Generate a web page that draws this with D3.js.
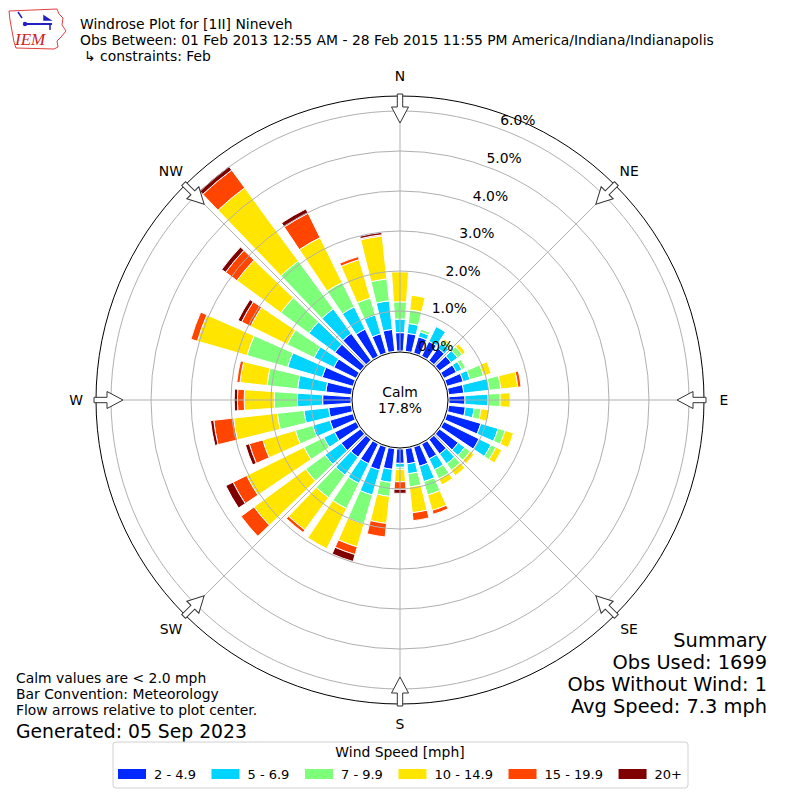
<!DOCTYPE html>
<html>
<head>
<meta charset="utf-8">
<script src="https://cdn.jsdelivr.net/npm/d3@7"></script>
<style>
  body { margin: 0; background: #fff; }
  svg { font-family: "DejaVu Sans", sans-serif; }
</style>
</head>
<body>
<div id="chart"></div>
<script>
// direction bins (degrees, meteorological)
var directions = [0, 10, 20, 30, 40, 50, 60, 70, 80, 90, 100, 110, 120, 130, 140, 150, 160, 170,
                  180, 190, 200, 210, 220, 230, 240, 250, 260, 270, 280, 290, 300, 310, 320, 330, 340, 350];

// percent of obs per speed bin, one value per direction
var spd2to5   = [.46,.45,.42,.41,.38,.36,.35,.42,.38,.40,.42,.88,.98,.58,.45,.42,.50,.38,
                 .36,.52,.60,.55,.55,.60,.60,.60,.57,.71,.64,.80,.62,.79,.84,.75,.50,.55];
var spd5to7   = [.34,.25,.13,.41,.15,.20,.15,.18,.64,.58,.22,.45,.33,.20,.30,.30,.40,.25,
                 .10,.33,.65,.55,.55,.50,.30,.45,.62,.63,.71,.90,.55,.81,.76,.62,.49,.72];
var spd7to10  = [.43,.34,.07,0,.08,.14,.10,.35,.29,.30,.17,.18,.14,.17,.20,.25,.35,.33,
                 .05,.35,.75,.70,.70,.60,.55,.45,.67,.58,.77,1.06,.75,.87,1.48,.68,.44,.55];
var spd10to15 = [.75,.37,0,0,.05,.10,0,.20,.43,.25,.21,.22,.16,.12,.17,.17,.40,.65,
                 .31,.68,.60,1.12,1.00,1.60,1.60,.85,1.10,.75,.68,1.29,1.02,1.36,2.27,1.25,1.00,1.08];
var spd15to20 = [0,0,0,0,0,0,0,0,.08,0,0,0,0,0,0,0,.10,.20,
                 .19,.34,.20,0,.08,.40,.38,.35,.50,.17,.08,.17,.25,.35,.55,.68,.08,.03];
var spd20up   = [0,0,0,0,0,0,0,0,0,0,0,0,0,0,0,0,0,0,
                 .10,0,.18,0,0,0,.20,.10,.08,.08,0,0,.10,.12,.12,.12,0,.06];

var speedLabels = ["2 - 4.9", "5 - 6.9", "7 - 9.9", "10 - 14.9", "15 - 19.9", "20+"];
var colors = ["#0028ff", "#00d4ff", "#7dff7a", "#ffe500", "#ff4500", "#800000"];

var rTicks = [0, 1, 2, 3, 4, 5, 6];
var compass = ["N", "NE", "E", "SE", "S", "SW", "W", "NW"];
var compassDeg = [0, 45, 90, 135, 180, 225, 270, 315];

var calmPct = "17.8%";
var titleLines = ["Windrose Plot for [1II] Nineveh",
                  "Obs Between: 01 Feb 2013 12:55 AM - 28 Feb 2015 11:55 PM America/Indiana/Indianapolis",
                  "\u21b3 constraints: Feb"];
var noteLines = ["Calm values are < 2.0 mph", "Bar Convention: Meteorology", "Flow arrows relative to plot center."];
var summaryLines = ["Summary", "Obs Used: 1699", "Obs Without Wind: 1", "Avg Speed: 7.3 mph"];

var width = 800, height = 800;
var cx = 400, cy = 400;

var svg = d3.select("#chart").append("svg")
    .attr("width", width)
    .attr("height", height);

// radial scale: percent -> px
var r = d3.scaleLinear().domain([0, 6]).range([49, 289]);
var rMax = 6.375;
var ang = d3.scaleLinear().domain([0, 360]).range([0, 2 * Math.PI]);
var halfWidth = 3.8; // degrees each side

function polar(deg, rad) {
    var a = ang(deg);
    return [cx + rad * Math.sin(a), cy - rad * Math.cos(a)];
}

// stack the bins
var keys = ["b0", "b1", "b2", "b3", "b4", "b5"];
var series = [spd2to5, spd5to7, spd7to10, spd10to15, spd15to20, spd20up];
var rows = directions.map(function(d, i) {
    var o = { dir: d };
    keys.forEach(function(k, j) { o[k] = series[j][i]; });
    return o;
});
var stacked = d3.stack().keys(keys)(rows);

var arc = d3.arc()
    .innerRadius(function(d) { return r(d[0]); })
    .outerRadius(function(d) { return r(d[1]); })
    .startAngle(function(d) { return ang(d.data.dir - halfWidth); })
    .endAngle(function(d) { return ang(d.data.dir + halfWidth); });

var plot = svg.append("g").attr("transform", "translate(" + cx + "," + cy + ")");

plot.selectAll("g.bin")
    .data(stacked)
    .enter()
    .append("g")
    .attr("class", "bin")
    .style("fill", function(d, i) { return colors[i]; })
    .selectAll("path")
    .data(function(d) { return d.filter(function(s) { return s[1] - s[0] > 0; }); })
    .enter()
    .append("path")
    .attr("d", arc)
    .style("stroke", "#fff")
    .style("stroke-width", 1);

// grid rings
plot.selectAll("circle.ring")
    .data(rTicks.slice(1))
    .enter()
    .append("circle")
    .attr("r", function(d) { return r(d); })
    .style("fill", "none")
    .style("stroke", "#b0b0b0")
    .style("stroke-width", 1);

// radial spokes
plot.selectAll("line.spoke")
    .data(compassDeg)
    .enter()
    .append("line")
    .attr("x1", 0).attr("y1", 0)
    .attr("x2", function(d) { return r(rMax) * Math.sin(ang(d)); })
    .attr("y2", function(d) { return -r(rMax) * Math.cos(ang(d)); })
    .style("stroke", "#b0b0b0")
    .style("stroke-width", 1);

// outer frame
plot.append("circle")
    .attr("r", r(rMax))
    .style("fill", "none")
    .style("stroke", "#000")
    .style("stroke-width", 1);

// flow arrows (hollow, pointing inward)
var arrowPts = [[-2.7, 306], [2.7, 306], [2.7, 293], [8.5, 293], [0, 277], [-8.5, 293], [-2.7, 293]];
plot.selectAll("polygon.arrow")
    .data(compassDeg)
    .enter()
    .append("polygon")
    .attr("points", arrowPts.map(function(p) { return p[0] + "," + (-p[1]); }).join(" "))
    .attr("transform", function(d) { return "rotate(" + d + ")"; })
    .style("fill", "#fff")
    .style("stroke", "#333")
    .style("stroke-width", 1);

// compass labels
plot.selectAll("text.dir")
    .data(compassDeg)
    .enter()
    .append("text")
    .attr("x", function(d) { return 324 * Math.sin(ang(d)); })
    .attr("y", function(d) { return -324 * Math.cos(ang(d)); })
    .attr("text-anchor", "middle")
    .attr("dominant-baseline", "central")
    .style("font-size", "13.9px")
    .text(function(d, i) { return compass[i]; });

// radial tick labels
svg.selectAll("text.rtick")
    .data(rTicks)
    .enter()
    .append("text")
    .attr("x", function(d) { return polar(20, r(d))[0] + 19; })
    .attr("y", function(d) { return polar(20, r(d))[1] - 8; })
    .attr("text-anchor", "middle")
    .attr("dominant-baseline", "central")
    .style("font-size", "13.9px")
    .text(function(d) { return d.toFixed(1) + "%"; });

// calm circle
plot.append("circle")
    .attr("r", r(0) - 1)
    .style("fill", "#fff")
    .style("stroke", "#000")
    .style("stroke-width", 1);
plot.append("text")
    .attr("y", -8).attr("text-anchor", "middle").attr("dominant-baseline", "central")
    .style("font-size", "13.9px").text("Calm");
plot.append("text")
    .attr("y", 8).attr("text-anchor", "middle").attr("dominant-baseline", "central")
    .style("font-size", "13.9px").text(calmPct);

// titles
svg.selectAll("text.title")
    .data(titleLines)
    .enter()
    .append("text")
    .attr("x", function(d, i) { return i === 2 ? 84 : 80; })
    .attr("y", function(d, i) { return 29 + i * 16; })
    .style("font-size", "13.9px")
    .text(function(d) { return d; });

// notes bottom left
svg.selectAll("text.note")
    .data(noteLines)
    .enter()
    .append("text")
    .attr("x", 16)
    .attr("y", function(d, i) { return 683 + i * 16; })
    .style("font-size", "13.9px")
    .text(function(d) { return d; });
svg.append("text")
    .attr("x", 16).attr("y", 738)
    .style("font-size", "18.8px")
    .text("Generated: 05 Sep 2023");

// summary bottom right
svg.selectAll("text.summary")
    .data(summaryLines)
    .enter()
    .append("text")
    .attr("x", 767)
    .attr("y", function(d, i) { return 647 + i * 22; })
    .attr("text-anchor", "end")
    .style("font-size", "19.4px")
    .text(function(d) { return d; });

// legend
var legend = svg.append("g");
legend.append("rect")
    .attr("x", 113).attr("y", 742).attr("width", 575).attr("height", 46)
    .attr("rx", 3)
    .style("fill", "#fff")
    .style("stroke", "#d0d0d0");
legend.append("text")
    .attr("x", 400).attr("y", 757)
    .attr("text-anchor", "middle")
    .style("font-size", "13.9px")
    .text("Wind Speed [mph]");

// measure labels, then spread columns to fill the box
var labelW = speedLabels.map(function(lab) {
    var t = legend.append("text").style("font-size", "13px").text(lab);
    var w = t.node().getComputedTextLength();
    t.remove();
    return w;
});
var colGap = (682 - 118 - speedLabels.length * 36 - d3.sum(labelW)) / (speedLabels.length - 1);
var lx = 118;
speedLabels.forEach(function(lab, i) {
    legend.append("rect")
        .attr("x", lx).attr("y", 769).attr("width", 28).attr("height", 10)
        .style("fill", colors[i]);
    legend.append("text")
        .attr("x", lx + 36).attr("y", 779)
        .style("font-size", "13px")
        .text(lab);
    lx = lx + 36 + labelW[i] + colGap;
});

// IEM logo
var logo = svg.append("g");
logo.append("path")
    .attr("d", "M9,11 L57,9 L59,14 L63,18 L62,25 L66,31 L61,37 L57,41 L58,47 L54,49 L16,48 L14,42 L12,31 L10,20 Z")
    .style("fill", "none")
    .style("stroke", "#e04040")
    .style("stroke-width", 1);
logo.append("line").attr("x1", 25).attr("y1", 24).attr("x2", 52).attr("y2", 24)
    .style("stroke", "#2020c0").style("stroke-width", 2);
logo.append("circle").attr("cx", 25).attr("cy", 24).attr("r", 2.2).style("fill", "#2020c0");
logo.append("path").attr("d", "M18,12 L22,18 M44,16 L50,20 L44,20 Z M50,24 L50,30")
    .style("stroke", "#2020c0").style("fill", "#2020c0").style("stroke-width", 1.5);
logo.append("text")
    .attr("x", 15).attr("y", 45)
    .style("font-family", "Liberation Serif, serif")
    .style("font-style", "italic")
    .style("font-size", "17px")
    .style("fill", "#d02020")
    .text("IEM");
</script>
</body>
</html>
